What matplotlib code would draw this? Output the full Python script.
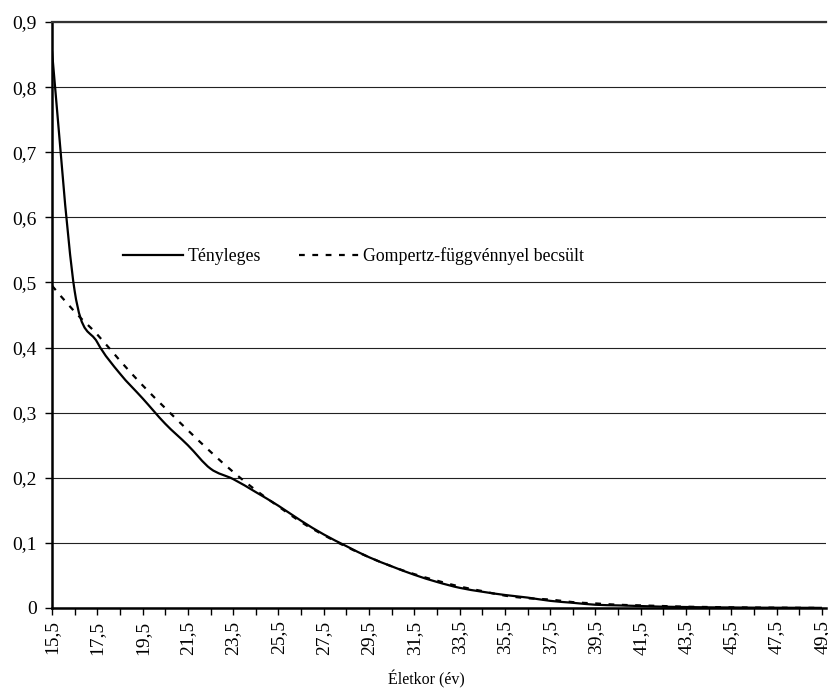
import numpy as np
import matplotlib
matplotlib.use("Agg")
import matplotlib.pyplot as plt
from matplotlib.path import Path
from matplotlib.patches import PathPatch
from matplotlib.lines import Line2D

# ---- data ----
ages = [15.5 + i for i in range(35)]
actual = [0.855, 0.487, 0.408, 0.36, 0.322, 0.283, 0.25, 0.214, 0.198, 0.178,
          0.157, 0.134, 0.113, 0.095, 0.078, 0.064, 0.051, 0.040, 0.031, 0.025,
          0.020, 0.016, 0.011, 0.008, 0.005, 0.004, 0.003, 0.002, 0.0015, 0.001,
          0.0008, 0.0005, 0.0004, 0.0003, 0.0002]
gompertz = [0.495, 0.455, 0.42, 0.38, 0.342, 0.307, 0.273, 0.240, 0.209, 0.181,
            0.156, 0.132, 0.112, 0.094, 0.078, 0.064, 0.052, 0.042, 0.033, 0.026,
            0.019, 0.015, 0.013, 0.009, 0.007, 0.005, 0.004, 0.003, 0.002, 0.0015,
            0.001, 0.0007, 0.0005, 0.0003, 0.0002]
series_names = ["Tényleges", "Gompertz-függvénnyel becsült"]
y_ticks = [0, 0.1, 0.2, 0.3, 0.4, 0.5, 0.6, 0.7, 0.8, 0.9]
x_label_ticks = [15.5 + 2 * i for i in range(18)]
x_label = "Életkor (év)"

plt.rcParams['font.family'] = ['Liberation Serif', 'DejaVu Serif']

fig = plt.figure(figsize=(8.29, 6.89), dpi=100)
ax = fig.add_axes([52 / 829, 1 - 608 / 689, (826 - 52) / 829, (608 - 22) / 689])


def smooth_path(xs, ys):
    # Excel-style smoothed line: cubic Bezier segments through the data points
    xs = np.asarray(xs, float)
    ys = np.asarray(ys, float)
    n = len(xs)
    verts = [(xs[0], ys[0])]
    codes = [Path.MOVETO]
    for i in range(n - 1):
        p0 = (xs[max(i - 1, 0)], ys[max(i - 1, 0)])
        p1 = (xs[i], ys[i])
        p2 = (xs[i + 1], ys[i + 1])
        p3 = (xs[min(i + 2, n - 1)], ys[min(i + 2, n - 1)])
        c1 = (p1[0] + (p2[0] - p0[0]) / 6, p1[1] + (p2[1] - p0[1]) / 6)
        c2 = (p2[0] - (p3[0] - p1[0]) / 6, p2[1] - (p3[1] - p1[1]) / 6)
        verts += [c1, c2, p2]
        codes += [Path.CURVE4] * 3
    return Path(verts, codes)


dash = (0, (2.6, 3.4))
ax.add_patch(PathPatch(smooth_path(ages, gompertz), fill=False, lw=1.6,
                       ec='black', linestyle=dash, zorder=3, capstyle='butt'))
ax.add_patch(PathPatch(smooth_path(ages, actual), fill=False, lw=1.6,
                       ec='black', zorder=4))

ax.set_xlim(15.5, 49.68)
ax.set_ylim(0, 0.9)

ax.set_yticks(y_ticks)
ax.set_yticklabels(["0" if v == 0 else f"{v:.1f}".replace('.', ',') for v in y_ticks])
ax.set_xticks(ages, minor=True)
ax.set_xticks(x_label_ticks)
ax.set_xticklabels([f"{v:.1f}".replace('.', ',') for v in x_label_ticks], rotation=90)

ax.grid(axis='y', color='#222222', lw=0.8)
ax.set_axisbelow(True)

for s in ['left', 'bottom']:
    ax.spines[s].set_linewidth(1.8)
    ax.spines[s].set_color('black')
ax.spines['top'].set_linewidth(1.6)
ax.spines['top'].set_color('#333333')
ax.spines['right'].set_visible(False)

ax.tick_params(axis='y', direction='out', length=5, width=1, pad=6, labelsize=14)
ax.tick_params(axis='x', which='both', direction='out', length=5, width=1, pad=4, labelsize=14)
ax.tick_params(axis='x', which='minor', labelbottom=False)

fig.text(426 / 829, 1 - 679 / 689, x_label, fontsize=11.5, ha='center', va='center')

handles = [Line2D([], [], color='black', lw=1.6),
           Line2D([], [], color='black', lw=1.6, linestyle=dash)]
fig.legend(handles, series_names, loc='center left', ncol=2, frameon=False,
           bbox_to_anchor=(123 / 829, 1 - 256 / 689), bbox_transform=fig.transFigure,
           fontsize=12.8, handlelength=3.4, handletextpad=0.25, columnspacing=2.1,
           borderpad=0, borderaxespad=0)

fig.savefig("out.png", dpi=100)
